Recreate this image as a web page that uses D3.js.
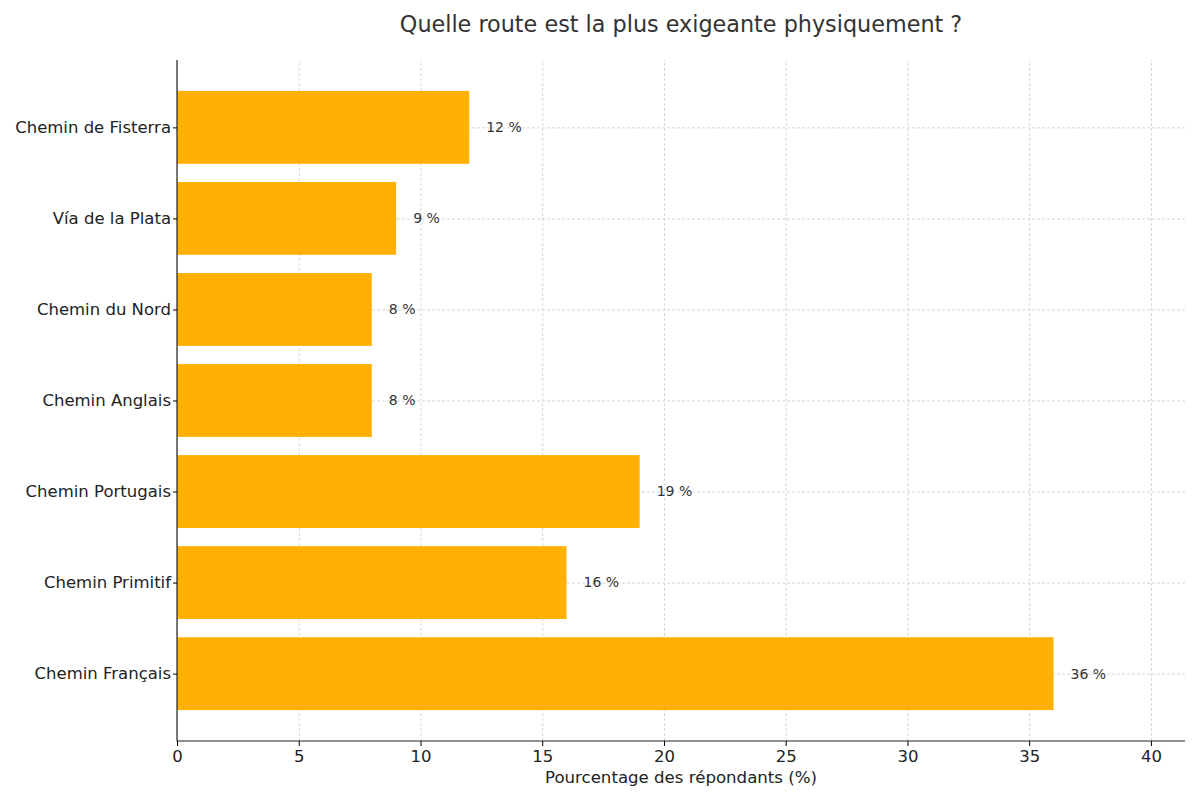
<!DOCTYPE html>
<html>

<head>
    <title>Quelle route est la plus exigeante physiquement ?</title>
    <script src="https://cdnjs.cloudflare.com/ajax/libs/d3/7.8.5/d3.min.js"></script>
    <style>
        body { margin: 0; background: #fff; }
        text { font-family: "DejaVu Sans", sans-serif; }
        .grid line { stroke: #cccccc; stroke-width: 0.8; stroke-dasharray: 3, 2; }
        .grid path { display: none; }
    </style>
</head>

<body>
    <div id="chart"></div>
    <script>
        // Data, bottom to top as drawn
        const routes = ["Chemin Français", "Chemin Primitif", "Chemin Portugais", "Chemin Anglais",
            "Chemin du Nord", "Vía de la Plata", "Chemin de Fisterra"];
        const percents = [36, 16, 19, 8, 8, 9, 12];
        const xTicks = [0, 5, 10, 15, 20, 25, 30, 35, 40];

        const width = 1200, height = 800;
        const plotL = 177, plotR = 1185, plotT = 60, plotB = 741;

        const svg = d3.select("#chart")
            .append("svg")
            .attr("width", width)
            .attr("height", height);

        const x = d3.scaleLinear().domain([0, 41.4]).range([plotL, plotR]);
        // category index -> vertical position, with matplotlib-like margins
        const y = d3.scaleLinear().domain([-0.74, 6.74]).range([plotB, plotT]);
        const barH = y(0) - y(0.8);

        // Vertical grid
        svg.append("g")
            .attr("class", "grid")
            .attr("transform", `translate(0,${plotB})`)
            .call(d3.axisBottom(x).tickValues(xTicks).tickSize(-(plotB - plotT)).tickFormat(""));

        // Horizontal grid
        svg.append("g")
            .attr("class", "grid")
            .attr("transform", `translate(${plotL},0)`)
            .call(d3.axisLeft(y).tickValues(d3.range(routes.length)).tickSize(-(plotR - plotL)).tickFormat(""));

        // Bars
        svg.selectAll("rect.bar")
            .data(percents)
            .enter()
            .append("rect")
            .attr("class", "bar")
            .attr("x", x(0))
            .attr("y", (d, i) => y(i) - barH / 2)
            .attr("width", d => x(d) - x(0))
            .attr("height", barH)
            .attr("fill", "#ffb000");

        // Value labels
        svg.selectAll("text.val")
            .data(percents)
            .enter()
            .append("text")
            .attr("class", "val")
            .attr("x", d => x(d + 0.7))
            .attr("y", (d, i) => y(i))
            .attr("dy", "0.35em")
            .attr("font-size", 14)
            .attr("fill", "#333")
            .text(d => `${d} %`);

        // X axis
        const xAxis = svg.append("g")
            .attr("transform", `translate(0,${plotB})`)
            .call(d3.axisBottom(x).tickValues(xTicks).tickSize(5).tickPadding(4));
        xAxis.selectAll("text").attr("font-size", 16.5).attr("fill", "#222");

        // Y axis
        const yAxis = svg.append("g")
            .attr("transform", `translate(${plotL},0)`)
            .call(d3.axisLeft(y).tickValues(d3.range(routes.length))
                .tickFormat(i => routes[i]).tickSize(4).tickPadding(2));
        yAxis.selectAll("text").attr("font-size", 16.5).attr("fill", "#222");

        svg.selectAll(".domain").attr("stroke", "#222").attr("stroke-width", 1.2);
        xAxis.select(".domain").attr("d", `M${plotL},0H${plotR}`);
        yAxis.select(".domain").attr("d", `M0,${plotB}V${plotT}`);

        // Axis title
        svg.append("text")
            .attr("x", (plotL + plotR) / 2)
            .attr("y", 783)
            .attr("text-anchor", "middle")
            .attr("font-size", 16.6)
            .attr("fill", "#222")
            .text("Pourcentage des répondants (%)");

        // Chart title
        svg.append("text")
            .attr("x", (plotL + plotR) / 2)
            .attr("y", 32)
            .attr("text-anchor", "middle")
            .attr("font-size", 22.3)
            .attr("fill", "#333")
            .text("Quelle route est la plus exigeante physiquement ?");
    </script>
</body>

</html>
